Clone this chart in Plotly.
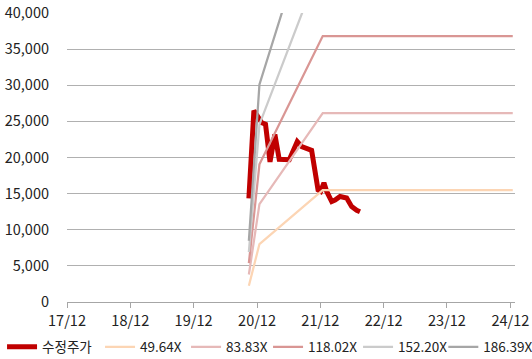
import plotly.graph_objects as go

# Adjusted share price (수정주가)
price_dates = [
    "2020-10-15", "2020-11-13", "2020-12-29", "2021-01-19", "2021-02-14",
    "2021-03-14", "2021-04-08", "2021-06-05", "2021-07-21", "2021-08-16",
    "2021-10-12", "2021-11-18", "2021-12-03", "2021-12-22", "2022-01-07",
    "2022-02-05", "2022-02-24", "2022-03-25", "2022-05-02", "2022-05-31",
    "2022-06-29", "2022-07-18",
]
price = [
    14350, 26500, 24800, 24600, 19400,
    23200, 19750, 19700, 22200, 21500,
    21000, 15500, 15300, 16500, 15300,
    13900, 14100, 14600, 14400, 13200,
    12700, 12500,
]

# PER band lines
band_dates = ["2020-10-15", "2020-12-15", "2021-12-15", "2022-12-15", "2023-12-15", "2024-12-15"]
band_4964 = [2260, 8020, 15480, 15480, 15480, 15480]
band_8383 = [3810, 13540, 26140, 26140, 26140, 26140]
band_11802 = [5370, 19060, 36800, 36800, 36800, 36800]
band_15220 = [6920, 24580, 47460, 47460, 47460, 47460]
band_18639 = [8480, 30100, 58120, 58120, 58120, 58120]

x_tick_vals = ["2017-12-01", "2018-12-01", "2019-12-01", "2020-12-01",
               "2021-12-01", "2022-12-01", "2023-12-01", "2024-12-01"]
x_tick_text = ["17/12", "18/12", "19/12", "20/12", "21/12", "22/12", "23/12", "24/12"]

font_family = "Noto Sans CJK KR, Noto Sans, sans-serif"

fig = go.Figure()
fig.add_trace(go.Scatter(x=price_dates, y=price, mode="lines", name="수정주가",
                         line=dict(color="#C00000", width=5), legendwidth=53))
# (name, values, colour, legend entry width, legend id)
bands = [
    ("49.64X", band_4964, "#FCD5B4", 41, "legend"),
    ("83.83X", band_8383, "#E6B9B8", 37, "legend"),
    ("118.02X", band_11802, "#D99694", 45, "legend"),
    ("152.20X", band_15220, "#CBCBCB", 44, "legend"),
    ("186.39X", band_18639, "#A6A6A6", 45, "legend2"),
]
for name, vals, color, lw, leg in bands:
    fig.add_trace(go.Scatter(x=band_dates, y=vals, mode="lines", name=name,
                             line=dict(color=color, width=2.25),
                             legendwidth=lw, legend=leg))

legend_common = dict(orientation="h", xref="paper", yref="paper",
                     xanchor="left", y=-0.156, yanchor="middle",
                     font=dict(size=13.5), itemwidth=30, tracegroupgap=0,
                     bgcolor="rgba(0,0,0,0)")

fig.update_layout(
    width=532, height=359,
    margin=dict(l=67, r=17, t=13, b=57, autoexpand=False),
    paper_bgcolor="white", plot_bgcolor="white",
    font=dict(family=font_family, size=14, color="#222222"),
    showlegend=True,
    legend=dict(x=-0.145, **legend_common),
    legend2=dict(x=0.840, **legend_common),
)
fig.update_xaxes(
    type="date", range=["2017-12-01", "2024-12-28"],
    tickvals=x_tick_vals, ticktext=x_tick_text,
    showgrid=False, showline=True, linecolor="#A6A6A6", linewidth=1.3,
    ticks="outside", ticklen=5, tickcolor="#A6A6A6", tickwidth=1.3,
    tickfont=dict(size=14.5), zeroline=False,
)
fig.update_yaxes(
    range=[0, 40000], dtick=5000, tickformat=",",
    showgrid=True, gridcolor="#B0B0B0", gridwidth=1.3,
    zeroline=False, showline=False, ticks="", ticklabelstandoff=17,
    tickfont=dict(size=14.5),
)

fig.write_html("out.html")
